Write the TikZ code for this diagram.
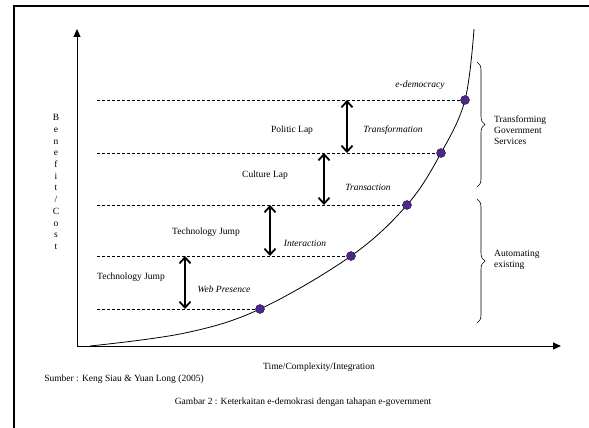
\documentclass[tikz,border=0pt]{standalone}
\usepackage{fontspec}
\setmainfont{Liberation Serif}
\usetikzlibrary{arrows.meta, decorations.pathreplacing}
\definecolor{stagepurple}{RGB}{78,38,140}
\tikzstyle{axis} = [line width=1pt,-{Triangle[length=8pt,width=7pt]}]
\tikzstyle{dashline} = [line width=0.9pt,dash pattern=on 3pt off 2pt]
\tikzstyle{lap} = [line width=1.8pt,{Straight Barb[length=6pt,width=11pt]}-{Straight Barb[length=6pt,width=11pt]}]
\tikzstyle{stage} = [circle,fill=stagepurple,draw=black!60!stagepurple,inner sep=0pt,minimum size=9pt]
\tikzstyle{lbl} = [inner sep=0pt,font=\fontsize{9.5}{11}\selectfont]
\tikzstyle{itlbl} = [inner sep=0pt,font=\fontsize{9.5}{11}\selectfont\itshape]
\tikzstyle{brace} = [decorate,decoration={brace,amplitude=8pt},line width=0.6pt]
\begin{document}
\begin{tikzpicture}[x=1pt,y=-1pt]
\useasboundingbox (0,0) rectangle (589,428);
% frame
\draw[line width=1.5pt] (14,428) -- (14,6) -- (589,6);

% axes
\coordinate (o) at (77,346);
\coordinate (ytop) at (77,29);
\coordinate (xend) at (561,346);
\draw[axis] (o) -- (ytop);
\draw[axis] (o) -- (xend);

% points on the curve
\coordinate (s0) at (90,346);
\coordinate (c1) at (185,333);
\coordinate (s1) at (260,309);
\coordinate (s2) at (351,256);
\coordinate (s3) at (407,205);
\coordinate (s4) at (441,153);
\coordinate (s5) at (465,100);
\coordinate (s6) at (474,29);
\draw[line width=0.8pt] plot[smooth,tension=0.6] coordinates {(s0) (c1) (s1) (s2) (s3) (s4) (s5) (s6)};

% levels
\coordinate (lx) at (97,0);
\foreach \i in {1,...,5}
{
 \draw[dashline] (s\i -| lx) -- (s\i);
}
\foreach \i in {1,...,5}
{
 \node[stage] (d\i) at (s\i) {};
}

% laps
\coordinate (ax1) at (185,0);
\coordinate (ax2) at (270,0);
\coordinate (ax3) at (324,0);
\coordinate (ax4) at (347,0);
\draw[lap] (s1 -| ax1) -- (s2 -| ax1);
\draw[lap] (s2 -| ax2) -- (s3 -| ax2);
\draw[lap] (s3 -| ax3) -- (s4 -| ax3);
\draw[lap] (s4 -| ax4) -- (s5 -| ax4);

\node[lbl] (jump1) at (131,277) {Technology Jump};
\node[itlbl] (web) at (224,289) {Web Presence};
\node[lbl] (jump2) at (206,232) {Technology Jump};
\node[itlbl] (inter) at (305,243) {Interaction};
\node[lbl] (culture) at (265,175) {Culture Lap};
\node[itlbl] (trans) at (368,187) {Transaction};
\node[lbl] (politic) at (292,130) {Politic Lap};
\node[itlbl] (transf) at (393,130) {Transformation};
\node[itlbl] (edem) at (420,85) {e-democracy};

% braces
\coordinate (b1) at (477,62);
\coordinate (b2) at (477,187);
\coordinate (b3) at (477,199);
\coordinate (b4) at (477,323);
\draw[brace] (b1) -- (b2);
\draw[brace] (b3) -- (b4);
\node[lbl,anchor=west,align=left] (tgs) at (494,130) {Transforming\\Government\\Services};
\node[lbl,anchor=west,align=left] (auto) at (494,260) {Automating\\existing};

% axis labels
\node[lbl,align=center,font=\fontsize{9.5}{11.7}\selectfont] (ylab) at (56,182) {B\\e\\n\\e\\f\\i\\t\\/\\C\\o\\s\\t};
\node[lbl] (xlab) at (319,367) {Time/Complexity/Integration};
\node[lbl] (src) at (124,379) {Sumber : Keng Siau \& Yuan Long (2005)};
\node[lbl] (cap) at (303,402) {Gambar 2 : Keterkaitan e-demokrasi dengan tahapan e-government};
\end{tikzpicture}
\end{document}
